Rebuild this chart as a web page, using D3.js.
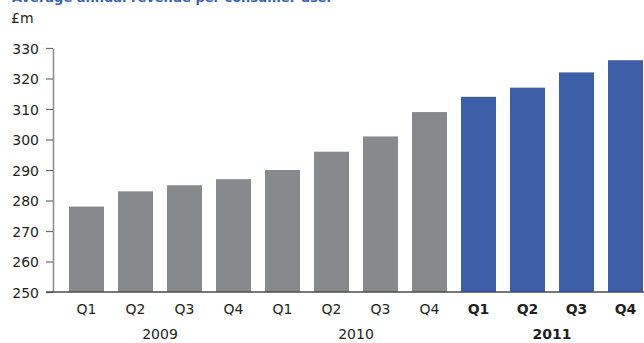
<!DOCTYPE html>
<html lang="en">
<head>
    <meta charset="UTF-8">
    <title>Average annual revenue per consumer user</title>
    <style>
        body {
            margin: 0;
            background-color: #ffffff;
        }
        svg {
            display: block;
        }
        text {
            font-family: "DejaVu Sans", sans-serif;
            fill: #231f20;
        }
        .title {
            fill: #3d5fa8;
            font-weight: bold;
            font-size: 13px;
        }
        .tick text {
            font-size: 14px;
        }
    </style>
</head>
<body>
    <script src="https://d3js.org/d3.v7.min.js"></script>
    <script>
        const width = 644;
        const height = 343;

        // data
        const quarters = ["Q1", "Q2", "Q3", "Q4", "Q1", "Q2", "Q3", "Q4", "Q1", "Q2", "Q3", "Q4"];
        const years = ["2009", "2010", "2011"];
        const revenue = [278, 283, 285, 287, 290, 296, 301, 309, 314, 317, 322, 326];
        const highlightYear = "2011";
        const yTicks = [250, 260, 270, 280, 290, 300, 310, 320, 330];

        const rows = revenue.map((v, i) => ({
            key: i,
            quarter: quarters[i],
            year: years[Math.floor(i / 4)],
            value: v
        }));

        const svg = d3.select("body")
            .append("svg")
            .attr("width", width)
            .attr("height", height);

        const x = d3.scaleBand()
            .domain(rows.map(d => d.key))
            .range([62, 650])
            .paddingInner(0.2857)
            .paddingOuter(0.1429);

        const y = d3.scaleLinear()
            .domain([250, 330])
            .range([292, 48]);

        svg.append("text")
            .attr("class", "title")
            .attr("x", 12)
            .attr("y", 2)
            .text("Average annual revenue per consumer user");

        svg.append("text")
            .attr("x", 11)
            .attr("y", 23)
            .style("font-size", "14px")
            .text("£m");

        svg.selectAll(".bar")
            .data(rows)
            .enter()
            .append("rect")
            .attr("class", "bar")
            .attr("x", d => x(d.key))
            .attr("y", d => y(d.value))
            .attr("width", x.bandwidth())
            .attr("height", d => y(250) - y(d.value))
            .style("fill", d => d.year === highlightYear ? "#3d5fa8" : "#88898d");

        // y axis
        const yAxis = svg.append("g")
            .attr("transform", "translate(53,0)")
            .call(d3.axisLeft(y).tickValues(yTicks).tickSize(7).tickSizeOuter(0).tickPadding(7));
        yAxis.select(".domain").attr("stroke", "#8a8a8a").attr("stroke-width", 1.5);
        yAxis.selectAll(".tick line").attr("stroke", "#6a6a6a").attr("stroke-width", 1.2);
        yAxis.selectAll(".tick text").attr("dy", "0.36em");

        // x axis baseline
        svg.append("line")
            .attr("x1", 46)
            .attr("x2", width)
            .attr("y1", y(250))
            .attr("y2", y(250))
            .attr("stroke", "#4a4a4a")
            .attr("stroke-width", 1.5);

        // quarter labels
        svg.selectAll(".qlabel")
            .data(rows)
            .enter()
            .append("text")
            .attr("class", "qlabel")
            .attr("x", d => x(d.key) + x.bandwidth() / 2)
            .attr("y", 314)
            .attr("text-anchor", "middle")
            .style("font-size", "14px")
            .style("font-weight", d => d.year === highlightYear ? "bold" : "normal")
            .text(d => d.quarter);

        // year labels, centred under each group of four
        svg.selectAll(".ylabel")
            .data(years)
            .enter()
            .append("text")
            .attr("class", "ylabel")
            .attr("x", (d, i) => (x(i * 4 + 1) + x(i * 4 + 2) + x.bandwidth()) / 2)
            .attr("y", 339)
            .attr("text-anchor", "middle")
            .style("font-size", "14px")
            .style("font-weight", d => d === highlightYear ? "bold" : "normal")
            .text(d => d);
    </script>
</body>
</html>
